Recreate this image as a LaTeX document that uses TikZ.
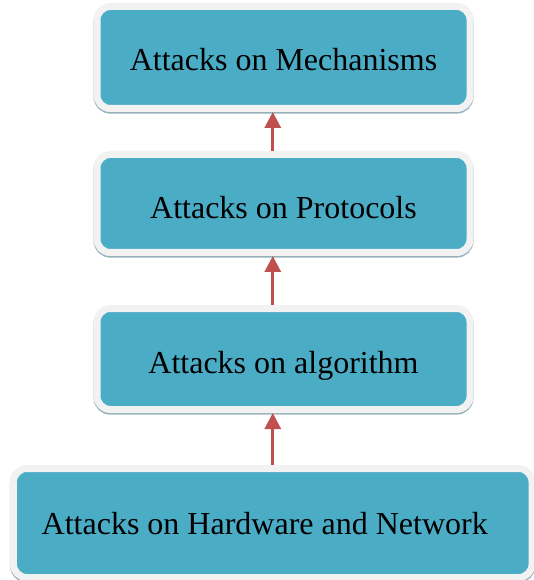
\documentclass[tikz,border=0pt]{standalone}
\usepackage{fontspec}
\setmainfont{Liberation Serif}
\usetikzlibrary{arrows.meta,positioning}
\definecolor{cyanfill}{RGB}{75,172,198}
\definecolor{framegray}{RGB}{242,242,242}
\definecolor{shadegray}{RGB}{150,176,186}
\definecolor{arrowred}{RGB}{192,80,77}
\tikzset{
  layer/.style={fill=cyanfill,draw=framegray,line width=5.25pt,rounded corners=10pt,inner sep=0pt,minimum width=279.75pt,font=\fontsize{24}{28}\selectfont,
    text height=22pt,text depth=1pt,
    preaction={draw=shadegray,line width=5.25pt,transform canvas={yshift=-1.2pt}}},
  up/.style={-{Triangle[length=12pt,width=12pt]},draw=arrowred,line width=2.25pt}
}

\begin{document}
\begin{tikzpicture}[x=0.75pt,y=-0.75pt]
\useasboundingbox (0,0) rectangle (533,580);
\node[layer,minimum height=76.5pt,text height=20pt] (mech) at (283.5,57.5) {Attacks on Mechanisms};
\node[layer,minimum height=73.5pt,text height=24pt] (proto) at (283.5,203.5) {Attacks on Protocols};
\node[layer,minimum height=75.75pt] (algo) at (283.5,359) {Attacks on algorithm};
\node[layer,minimum width=388.9pt,minimum height=81.75pt,text height=17.5pt] (hw) at (272.75,523) {Attacks on Hardware and Network\hspace*{12pt}};
\draw[up] (hw.north) -- (hw.north |- algo.south);
\draw[up] (hw.north |- algo.north) -- (hw.north |- proto.south);
\draw[up] (hw.north |- proto.north) -- (hw.north |- mech.south);
\end{tikzpicture}
\end{document}
